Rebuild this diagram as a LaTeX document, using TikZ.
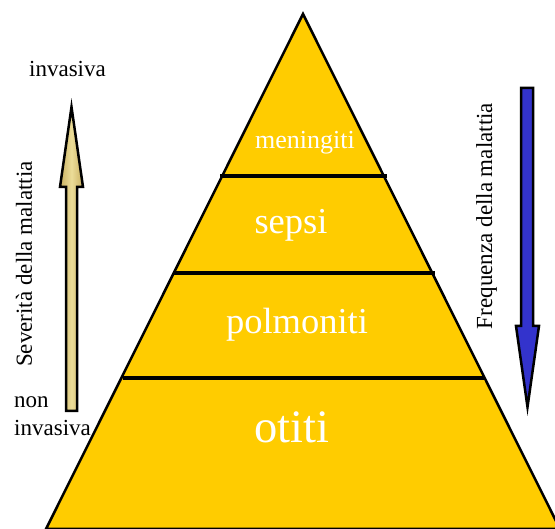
\documentclass[tikz,border=0pt]{standalone}
\usepackage{fontspec}
\setmainfont{Liberation Serif}
\begin{document}
\begin{tikzpicture}[x=1pt,y=-1pt,
  lab/.style={inner sep=0pt, text=white},
  side/.style={inner sep=0pt, font=\fontsize{23}{27}\selectfont},
  sep/.style={line width=4pt}]
\definecolor{pyr}{HTML}{FFCC00}
\definecolor{tanA}{HTML}{C9B062}
\definecolor{tanB}{HTML}{ECDD98}
\definecolor{blu}{HTML}{3333CC}
\useasboundingbox (0,0) rectangle (555,529);
\begin{scope}
\clip (0,0) rectangle (555,529);
\draw[line width=2.5pt, fill=pyr, line join=miter] (303,14) -- (560,529) -- (46,529) -- cycle;
\end{scope}
% separators
\coordinate (a1) at (220,176.5); \coordinate (b1) at (387,176.5);
\coordinate (a2) at (173,273.5); \coordinate (b2) at (435,273.5);
\coordinate (a3) at (123,378.5); \coordinate (b3) at (484,378.5);
\draw[sep] (a1) -- (b1);
\draw[sep] (a2) -- (b2);
\draw[sep] (a3) -- (b3);
% level labels
\node[lab, font=\fontsize{26}{30}\selectfont] (men) at (305,143) {meningiti};
\node[lab, font=\fontsize{36.5}{42}\selectfont] (sep) at (291,225) {sepsi};
\node[lab, font=\fontsize{36.5}{42}\selectfont] (pol) at (297,325) {polmoniti};
\node[lab, font=\fontsize{46.5}{52}\selectfont] (oti) at (292,427) {otiti};
% left arrow
\shade[left color=tanA, right color=tanA, middle color=tanB]
  (66,411) -- (66,187) -- (60,187) -- (71.5,107) -- (83,187) -- (77,187) -- (77,411) -- cycle;
\draw[line width=2.5pt, line join=miter]
  (66,411) -- (66,187) -- (60,187) -- (71.5,107) -- (83,187) -- (77,187) -- (77,411) -- cycle;
% right arrow
\draw[line width=2.5pt, fill=blu, line join=miter]
  (521,88) -- (533,88) -- (533,326) -- (539,326) -- (527.5,407) -- (516,326) -- (521,326) -- cycle;
% side texts
\node[side] (inv) at (67.5,69) {invasiva};
\node[side, anchor=base west] (non) at (14,408) {non};
\node[side, anchor=base west] (ninv) at (14,436) {invasiva};
\node[side, rotate=90] (sev) at (24,264) {Severità della malattia};
\node[side, rotate=90] (freq) at (486.5,216) {Frequenza della malattia};
\end{tikzpicture}
\end{document}
